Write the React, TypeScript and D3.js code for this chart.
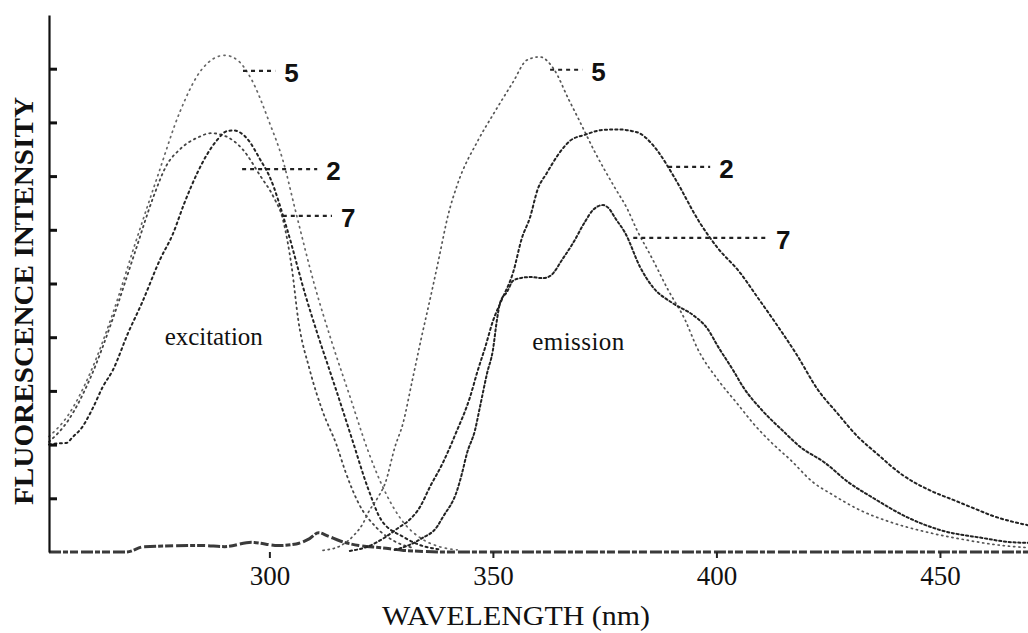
import React, { useEffect, useRef } from 'react';
import * as d3 from 'd3';

type Pt = [number, number];

// [wavelength nm, intensity (tick units)]
const excitation5: Pt[] = [
  [250.7, 2.15], [255, 2.55], [260, 3.35], [265, 4.45], [270, 5.75], [275, 7.0],
  [280, 8.2], [285, 9.0], [290, 9.25], [293, 9.15], [296, 8.8], [300, 8.0],
  [303, 7.3], [306, 6.3], [310, 5.0], [314, 3.9], [318, 2.9], [322, 1.9],
  [326, 1.1], [330, 0.55], [334, 0.25], [338, 0.1], [342, 0.04],
];

const excitation2: Pt[] = [
  [250.7, 2.0], [252.4, 2.02], [254.6, 2.03], [256, 2.14], [258, 2.31], [260.5, 2.68],
  [262.7, 3.07], [265, 3.39], [268.4, 4.08], [271.5, 4.64], [275.5, 5.44], [278.4, 5.92],
  [280.9, 6.48], [284, 7.08], [286.1, 7.41], [288, 7.64], [290.6, 7.84], [292, 7.85],
  [295, 7.7], [298, 7.3], [300, 7.0], [304, 6.0], [308, 4.8], [311, 4.0], [313, 3.5],
  [315, 3.0], [318.5, 2.1], [322, 1.2], [325, 0.6], [330, 0.28], [334, 0.12], [338, 0.05],
];

const excitation7: Pt[] = [
  [250.7, 2.05], [255, 2.45], [260, 3.25], [265, 4.35], [270, 5.6], [274, 6.6],
  [277, 7.2], [280, 7.5], [284, 7.72], [287, 7.8], [290, 7.75], [294, 7.5], [298, 7.0],
  [301, 6.6], [303, 6.2], [305, 5.3], [306.5, 4.3], [309, 3.4], [312, 2.6], [315, 2.0],
  [317, 1.5], [320, 0.9], [324, 0.45], [328, 0.2], [332, 0.08],
];

const emission5: Pt[] = [
  [312, 0.03], [316, 0.12], [319, 0.32], [321, 0.54], [322.1, 0.73], [324.3, 1.02],
  [325.9, 1.28], [328.1, 1.96], [329.9, 2.4], [331.9, 3.17], [333.9, 3.95], [336.4, 4.88],
  [338, 5.5], [340, 6.28], [342, 6.83], [346.7, 7.67], [350, 8.14], [354.5, 8.75],
  [357.6, 9.16], [360.5, 9.22], [363.5, 9.01], [367, 8.42], [369.3, 8.04], [372.8, 7.45],
  [377.3, 6.78], [380, 6.4], [382.2, 6.0], [385.6, 5.47], [389.2, 4.88], [393, 4.32],
  [395.7, 3.8], [400.4, 3.2], [404.6, 2.77], [408.6, 2.36], [412.4, 2.03], [416.5, 1.72],
  [421.6, 1.3], [426.1, 1.06], [432.1, 0.78], [438.8, 0.56], [447.1, 0.37], [456.1, 0.22],
  [463, 0.13], [469.7, 0.08],
];

const emission2: Pt[] = [
  [318, 0.02], [322, 0.1], [326, 0.28], [329.2, 0.47], [330.8, 0.56], [333.7, 0.84],
  [335.9, 1.21], [338.8, 1.66], [341.8, 2.23], [344.9, 2.89], [346.5, 3.35], [348.3, 3.82],
  [350, 4.3], [352, 4.7], [354.5, 5.2], [356.5, 5.85], [358.3, 6.23], [360, 6.75],
  [362, 7.05], [365.5, 7.5], [367.3, 7.66], [370.6, 7.77], [374.6, 7.86], [378, 7.87],
  [381, 7.84], [383, 7.79], [385, 7.65], [387, 7.45], [390.7, 6.96], [396.3, 6.13],
  [400.1, 5.68], [405.3, 5.2], [409.3, 4.73], [413.1, 4.28], [418, 3.67], [422.7, 3.02],
  [427, 2.59], [431.7, 2.14], [435.5, 1.86], [441.7, 1.43], [448.5, 1.12], [453, 0.97],
  [457.4, 0.82], [461.9, 0.67], [466.4, 0.56], [469.7, 0.5],
];

const emission7: Pt[] = [
  [328, 0.04], [331, 0.12], [334, 0.25], [337.5, 0.47], [338.8, 0.65], [342, 1.15],
  [343.1, 1.47], [344.2, 1.84], [346, 2.27], [347.1, 2.7], [348.7, 3.33], [350, 3.76],
  [350.9, 4.32], [351.6, 4.64], [353.2, 4.85], [354.5, 5.05], [356.1, 5.1], [358.3, 5.12],
  [361.2, 5.1], [362.8, 5.14], [365.7, 5.47], [367.9, 5.75], [370.6, 6.15], [372.4, 6.37],
  [374.6, 6.46], [375.8, 6.41], [377.5, 6.2], [379.6, 5.94], [382.9, 5.31], [385.8, 4.93],
  [390.1, 4.64], [394.8, 4.41], [397.9, 4.17], [400.4, 3.82], [403.7, 3.39], [406, 3.07],
  [410.2, 2.64], [414.7, 2.27], [418.7, 1.96], [424.3, 1.66], [429.5, 1.3], [435, 1.01],
  [442.6, 0.65], [450, 0.41], [459.6, 0.26], [465, 0.19], [469.7, 0.17],
];

// blank / scatter trace along the bottom
const baseline: Pt[] = [
  [250.7, 0.0], [268, 0.0], [272, 0.1], [285, 0.12], [290, 0.1], [296, 0.18], [302, 0.12],
  [306, 0.15], [309, 0.25], [311, 0.36], [313, 0.3], [316, 0.2], [320, 0.12], [325, 0.08],
  [330, 0.03], [340, 0.0], [469.7, 0.0],
];

const xTicks = [300, 350, 400, 450];
const yTicks = [1, 2, 3, 4, 5, 6, 7, 8, 9];

// curve number tags: leader from..to (nm) at a given intensity
const tagNames = ['5', '2', '7', '5', '2', '7'];
const tagFrom = [294.1, 293.9, 303.0, 362.8, 389.2, 381.4];
const tagTo = [301.3, 310.7, 314.0, 370.0, 398.6, 411.3];
const tagLevel = [8.96, 7.13, 6.26, 8.98, 7.17, 5.85];

const App = () => {
  const ref = useRef<SVGSVGElement>(null);

  useEffect(() => {
    const svgWidth = 1028,
      svgHeight = 633;
    const margin = { top: 15, right: 0, bottom: 81, left: 49 };

    const svg = d3.select(ref.current);
    svg.selectAll('*').remove();

    const x = d3.scaleLinear().domain([250.7, 469.7]).range([margin.left, svgWidth - margin.right]);
    const y = d3.scaleLinear().domain([0, 10]).range([svgHeight - margin.bottom, margin.top]);

    const line = d3
      .line<Pt>()
      .x((d) => x(d[0]))
      .y((d) => y(d[1]))
      .curve(d3.curveMonotoneX);

    // baseline trace (heavy, broken)
    svg
      .append('path')
      .datum(baseline)
      .attr('fill', 'none')
      .attr('stroke', '#3a3a3a')
      .attr('stroke-width', 3)
      .attr('stroke-dasharray', '12 2 5 2 8 3')
      .attr('d', line);

    const series = [
      { data: excitation5, stroke: '#666', width: 1.7, dash: '1.2 4.5' },
      { data: excitation7, stroke: '#444', width: 1.8, dash: '1.5 4' },
      { data: excitation2, stroke: '#222', width: 2, dash: '2 3.5' },
      { data: emission5, stroke: '#555', width: 1.7, dash: '1.2 4' },
      { data: emission7, stroke: '#222', width: 2, dash: '2.2 2.6' },
      { data: emission2, stroke: '#222', width: 2, dash: '2.2 3' },
    ];

    series.forEach((s) => {
      svg
        .append('path')
        .datum(s.data)
        .attr('fill', 'none')
        .attr('stroke', s.stroke)
        .attr('stroke-width', s.width)
        .attr('stroke-dasharray', s.dash)
        .attr('stroke-linecap', 'round')
        .attr('d', line);
    });

    // y axis, ticks pointing inward, no labels
    const gy = svg
      .append('g')
      .attr('transform', 'translate(' + margin.left + ',0)')
      .call(
        d3
          .axisRight(y)
          .tickValues(yTicks)
          .tickSize(8)
          .tickSizeOuter(0)
          .tickFormat(() => '')
      );
    gy.select('.domain').attr('stroke', '#111').attr('stroke-width', 2.2);
    gy.selectAll('.tick line').attr('stroke', '#111').attr('stroke-width', 3);

    // x axis
    const gx = svg
      .append('g')
      .attr('transform', 'translate(0,' + y(0) + ')')
      .call(d3.axisBottom(x).tickValues(xTicks).tickSize(6).tickPadding(8).tickSizeOuter(0));
    gx.select('.domain').remove();
    gx.selectAll('.tick line').attr('stroke', '#222').attr('stroke-width', 2);
    gx.selectAll('.tick text')
      .attr('fill', '#111')
      .style('font-family', '"Liberation Serif", serif')
      .style('font-size', '27px');

    // axis titles
    svg
      .append('text')
      .attr('transform', 'translate(33,301) rotate(-90)')
      .attr('text-anchor', 'middle')
      .attr('textLength', 408)
      .attr('lengthAdjust', 'spacingAndGlyphs')
      .style('font-family', '"Liberation Serif", serif')
      .style('font-size', '27px')
      .style('font-weight', 'bold')
      .attr('fill', '#111')
      .text('FLUORESCENCE INTENSITY');

    svg
      .append('text')
      .attr('x', 516)
      .attr('y', 625)
      .attr('text-anchor', 'middle')
      .attr('textLength', 268)
      .attr('lengthAdjust', 'spacingAndGlyphs')
      .style('font-family', '"Liberation Serif", serif')
      .style('font-size', '27px')
      .attr('fill', '#111')
      .text('WAVELENGTH (nm)');

    // region labels
    svg
      .append('text')
      .attr('x', x(276.6))
      .attr('y', y(3.85))
      .attr('textLength', 98)
      .style('font-family', '"Liberation Serif", serif')
      .style('font-size', '25px')
      .attr('fill', '#111')
      .text('excitation');

    svg
      .append('text')
      .attr('x', x(358.8))
      .attr('y', y(3.76))
      .attr('textLength', 92)
      .style('font-family', '"Liberation Serif", serif')
      .style('font-size', '25px')
      .attr('fill', '#111')
      .text('emission');

    // curve tags with dashed leaders
    tagNames.forEach((t, i) => {
      svg
        .append('line')
        .attr('x1', x(tagFrom[i]))
        .attr('x2', x(tagTo[i]))
        .attr('y1', y(tagLevel[i]))
        .attr('y2', y(tagLevel[i]))
        .attr('stroke', '#222')
        .attr('stroke-width', 2.2)
        .attr('stroke-dasharray', '4 4');
      svg
        .append('text')
        .attr('x', x(tagTo[i]) + 9)
        .attr('y', y(tagLevel[i]) + 2)
        .attr('dominant-baseline', 'central')
        .style('font-family', '"Liberation Sans", Arial, sans-serif')
        .style('font-size', '26px')
        .style('font-weight', 'bold')
        .attr('fill', '#111')
        .text(t);
    });
  }, []);

  return (
    <svg
      ref={ref}
      width={1028}
      height={633}
      style={{ position: 'absolute', left: 0, top: 0, background: '#fff' }}
    />
  );
};

export default App;
